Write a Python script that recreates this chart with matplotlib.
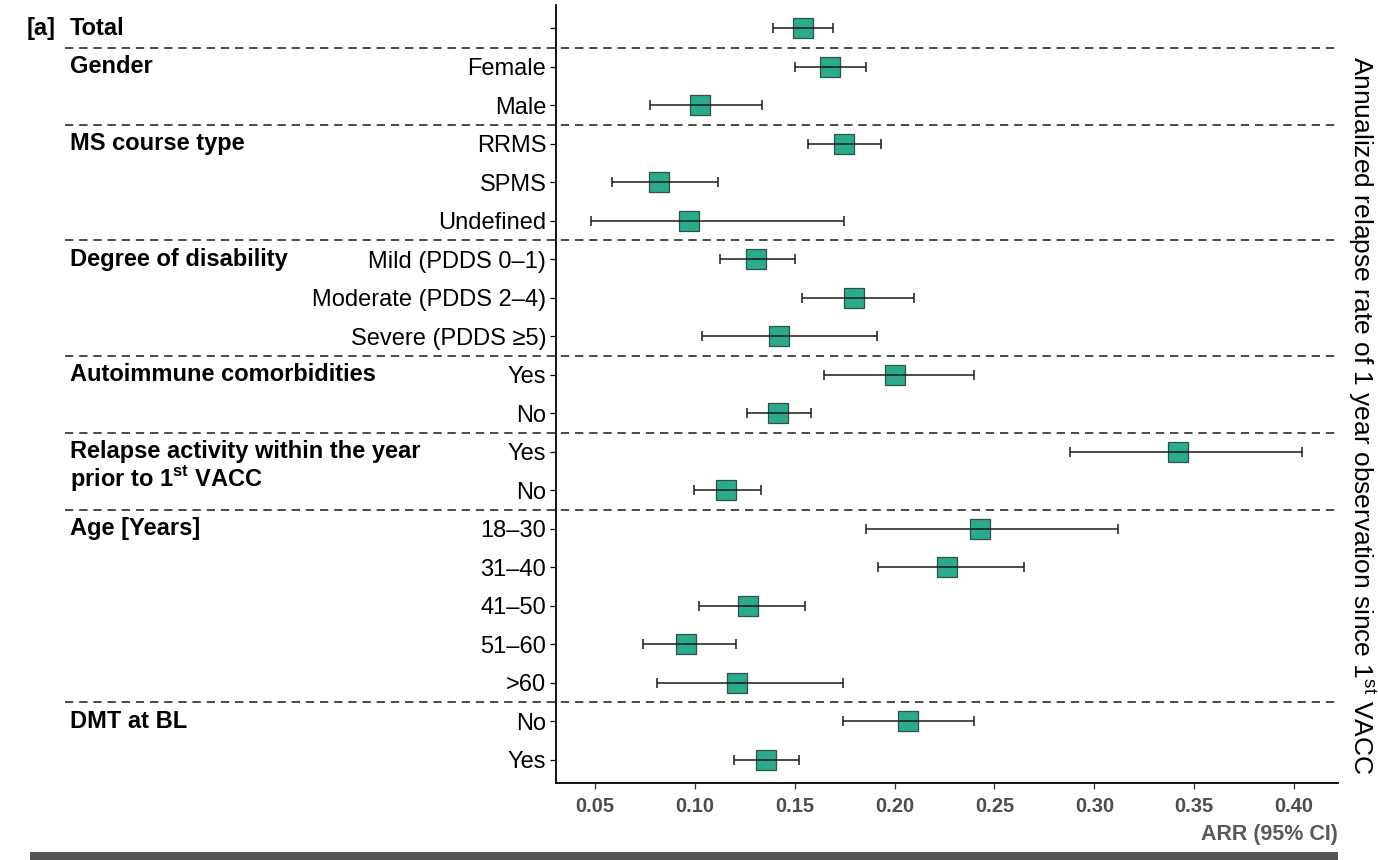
import numpy as np
import matplotlib
matplotlib.use("Agg")
import matplotlib.pyplot as plt
from matplotlib.transforms import blended_transform_factory
from matplotlib.patches import Rectangle

plt.rcParams['font.family'] = ['Liberation Sans', 'DejaVu Sans']
plt.rcParams['mathtext.fontset'] = 'custom'
plt.rcParams['mathtext.rm'] = 'Liberation Sans'
plt.rcParams['mathtext.bf'] = 'Liberation Sans:bold'

# Daten (ARR mit 95% KI)
row_labels = ["", "Female", "Male", "RRMS", "SPMS", "Undefined",
              "Mild (PDDS 0–1)", "Moderate (PDDS 2–4)", "Severe (PDDS ≥5)",
              "Yes", "No", "Yes", "No",
              "18–30", "31–40", "41–50", "51–60", ">60", "No", "Yes"]
arr = [0.154, 0.1675, 0.1025, 0.1745, 0.082, 0.097,
       0.1305, 0.1795, 0.142, 0.200, 0.1415, 0.342, 0.1155,
       0.243, 0.226, 0.1265, 0.0955, 0.121, 0.2065, 0.1355]
ci_low = [0.139, 0.150, 0.0775, 0.1565, 0.0585, 0.048,
          0.1125, 0.1535, 0.1035, 0.1645, 0.126, 0.288, 0.0995,
          0.1855, 0.1915, 0.102, 0.074, 0.081, 0.174, 0.1195]
ci_high = [0.169, 0.1855, 0.1335, 0.193, 0.1115, 0.1745,
           0.150, 0.2095, 0.191, 0.240, 0.158, 0.404, 0.133,
           0.312, 0.265, 0.155, 0.1205, 0.174, 0.240, 0.152]

group_labels = ["Total", "Gender", "MS course type", "Degree of disability",
                "Autoimmune comorbidities", "Relapse activity within the year",
                "Age [Years]", "DMT at BL"]
group_rows = [0, 1, 3, 6, 9, 11, 13, 18]
separators = [0.5, 2.5, 5.5, 8.5, 10.5, 12.5, 17.5]

xticks = [0.05, 0.10, 0.15, 0.20, 0.25, 0.30, 0.35, 0.40]

arr = np.array(arr)
ci_low = np.array(ci_low)
ci_high = np.array(ci_high)
rows = np.arange(len(row_labels))

fig = plt.figure(figsize=(13.78, 8.6), dpi=100)
ax = fig.add_axes([0.4035, 0.0895, 0.5675, 0.9045])

ax.plot(arr, rows, 's', ms=14.5, mfc='#2aab8c', mec='#2f4f47', mew=0.9, zorder=2)
ax.errorbar(arr, rows, xerr=[arr - ci_low, ci_high - arr], fmt='none',
            ecolor='#1a1a1a', elinewidth=1.1, capsize=3.8, capthick=1.1, zorder=3)

ax.set_xlim(0.0305, 0.422)
ax.set_ylim(19.6, -0.6)
ax.set_yticks(rows)
ax.set_yticklabels(row_labels, fontsize=17)
ax.set_xticks(xticks)
ax.set_xticklabels([f"{t:.2f}" for t in xticks], fontsize=14.5,
                   fontweight='bold', color='#4d4d4d')
ax.tick_params(axis='y', length=4, width=0.9, pad=3)
ax.tick_params(axis='x', length=4, width=0.9, pad=6, color='#333333')
for s in ['top', 'right']:
    ax.spines[s].set_visible(False)
ax.spines['left'].set_linewidth(1.3)
ax.spines['bottom'].set_linewidth(1.3)
ax.set_xlabel("ARR (95% CI)", loc='right', fontsize=15.5, fontweight='bold',
              color='#5a5a5a', labelpad=6)

# gestrichelte Trennlinien über die ganze Breite
tr = blended_transform_factory(ax.transAxes, ax.transData)
for y in separators:
    ax.plot([-0.628, 1.0], [y, y], transform=tr, clip_on=False,
            color='#2b2b2b', lw=1.2, ls=(0, (5, 3.5)), zorder=1)

# Gruppenbeschriftungen
trf = blended_transform_factory(fig.transFigure, ax.transData)
fig.text(0.0196, 0, "[a]", transform=trf, fontsize=17, fontweight='bold', va='center')
for lab, r in zip(group_labels, group_rows):
    fig.text(0.0508, r, lab, transform=trf, fontsize=17, fontweight='bold', va='center')
fig.text(0.0508, 11.68, r"prior to 1$^{\mathbf{st}}$ VACC", transform=trf,
         fontsize=17, fontweight='bold', va='center')

fig.text(0.988, 0.517, r"Annualized relapse rate of 1 year observation since 1$^{\mathrm{st}}$ VACC",
         rotation=270, fontsize=19, va='center', ha='center')

fig.add_artist(Rectangle((0.022, 0.0), 0.949, 0.009, transform=fig.transFigure,
                         color='#555555', lw=0))

fig.savefig("out.png", dpi=100)
